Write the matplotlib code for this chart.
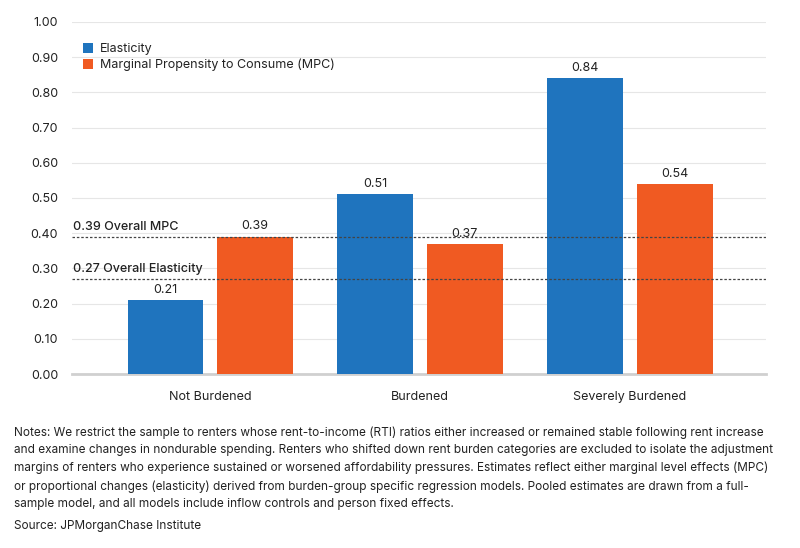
import numpy as np
import matplotlib.pyplot as plt

categories = ["Not Burdened", "Burdened", "Severely Burdened"]
elasticity = [0.21, 0.51, 0.84]
mpc = [0.39, 0.37, 0.54]
overall_mpc = 0.39
overall_elasticity = 0.27
y_ticks = [0.0, 0.1, 0.2, 0.3, 0.4, 0.5, 0.6, 0.7, 0.8, 0.9, 1.0]

notes = ("Notes: We restrict the sample to renters whose rent-to-income (RTI) ratios either increased or remained stable following rent increase\n"
         "and examine changes in nondurable spending. Renters who shifted down rent burden categories are excluded to isolate the adjustment\n"
         "margins of renters who experience sustained or worsened affordability pressures. Estimates reflect either marginal level effects (MPC)\n"
         "or proportional changes (elasticity) derived from burden-group specific regression models. Pooled estimates are drawn from a full-\n"
         "sample model, and all models include inflow controls and person fixed effects.")
source = "Source: JPMorganChase Institute"

plt.rcParams['font.family'] = ['Inter', 'DejaVu Sans']

blue = "#1f74be"
orange = "#f05a22"
txt = "#222222"

fig = plt.figure(figsize=(8, 5.48), dpi=100)
ax = fig.add_axes([0.09, 0.3175, 0.8675, 0.6425])

x = np.arange(len(categories))
w = 0.362
off = 0.214
b1 = ax.bar(x - off, elasticity, w, color=blue, label="Elasticity", zorder=3)
b2 = ax.bar(x + off, mpc, w, color=orange, label="Marginal Propensity to Consume (MPC)", zorder=3)

for bars, vals in ((b1, elasticity), (b2, mpc)):
    for r, v in zip(bars, vals):
        ax.text(r.get_x() + r.get_width() / 2, v + 0.012, f"{v:.2f}",
                ha="center", va="bottom", fontsize=9, color=txt)

ax.set_xlim(-0.66, 2.65)
ax.set_ylim(0, 1.0)
ax.set_yticks(y_ticks)
ax.set_yticklabels([f"{t:.2f}" for t in y_ticks], fontsize=9, color=txt)
ax.set_xticks(x)
ax.set_xticklabels(categories, fontsize=9, color=txt)
ax.tick_params(axis="y", length=0, pad=10)
ax.tick_params(axis="x", length=0, pad=12)

ax.grid(axis="y", color="#e6e6e6", linewidth=0.8, zorder=0)
for s in ["top", "right", "left"]:
    ax.spines[s].set_visible(False)
ax.spines["bottom"].set_color("#d0d0d0")
ax.spines["bottom"].set_linewidth(2)

# lignes de reference (moyennes globales)
for val, lab in ((overall_mpc, "Overall MPC"), (overall_elasticity, "Overall Elasticity")):
    ax.axhline(val, color="#444444", linestyle=(0, (2, 1.5)), linewidth=0.9, zorder=4)
    ax.text(-0.655, val + 0.01, f"{val:.2f} {lab}", fontsize=9, color=txt,
            fontweight="medium", ha="left", va="bottom", zorder=5)

ax.legend(loc="upper left", bbox_to_anchor=(0.0, 0.972), frameon=False, fontsize=9,
          handlelength=0.8, handleheight=0.8, handletextpad=0.5, labelspacing=0.3,
          labelcolor=txt)

fig.text(0.018, 0.222, notes, fontsize=8.5, color=txt, va="top", ha="left", linespacing=1.6)
fig.text(0.018, 0.030, source, fontsize=8.5, color=txt, va="bottom", ha="left")

fig.savefig("out.png", dpi=100)
